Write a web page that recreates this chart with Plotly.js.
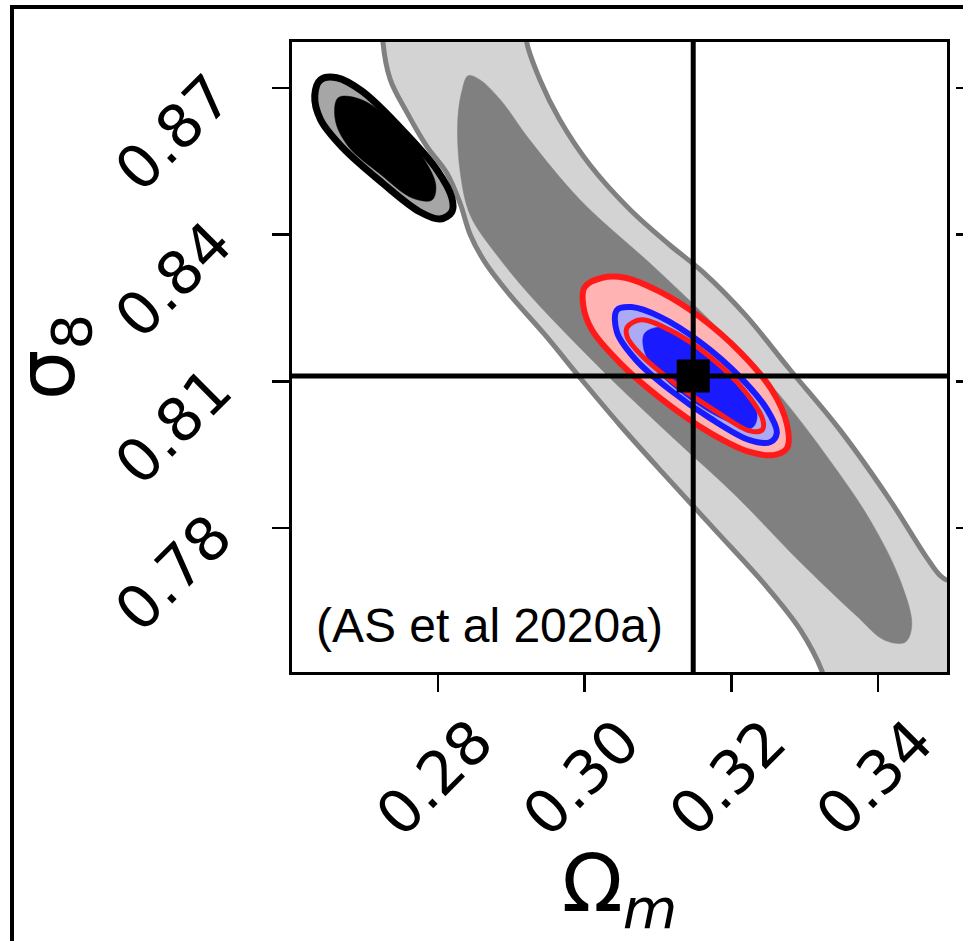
<!DOCTYPE html>
<html><head><meta charset="utf-8">
<script src="https://cdn.plot.ly/plotly-3.0.1.min.js"></script>
<style>
html,body{margin:0;padding:0;overflow:hidden;background:#fff}
#chart{position:absolute;left:0;top:0;width:963px;height:941px}
#frame{position:absolute;left:10px;top:5px;width:960px;height:940px;border-left:4px solid #000;border-top:4px solid #000;pointer-events:none}
</style></head>
<body><div id="chart"></div><div id="frame"></div>
<script>
// ---- tick values ----
const omegaTicks = [0.28, 0.30, 0.32, 0.34];
const sigmaTicks = [0.78, 0.81, 0.84, 0.87];
// ---- fiducial point ----
const omegaFid = 0.3148;
const sigmaFid = 0.8111;

// ---- grey constraint (outer 2-sigma band) ----
const greyOuterOm = [0.2725,0.2725,0.2735,0.2758,0.2785,0.2812,0.2830,0.2844,0.2864,0.2898,0.2946,0.2994,0.3048,0.3109,0.3178,0.3246,0.3294,0.3324,0.3334,0.3532,0.3532,0.3494,0.3484,0.3464,0.3416,0.3348,0.3280,0.3219,0.3161,0.3116,0.3062,0.3007,0.2966,0.2939,0.2921,0.2921,0.2725];
const greyOuterS8 = [0.8829,0.8794,0.8717,0.8649,0.8580,0.8526,0.8465,0.8400,0.8344,0.8277,0.8195,0.8107,0.8011,0.7909,0.7796,0.7684,0.7592,0.7506,0.7449,0.7449,0.7698,0.7694,0.7704,0.7745,0.7858,0.8001,0.8124,0.8236,0.8324,0.8379,0.8451,0.8543,0.8635,0.8717,0.8794,0.8829,0.8829];
// ---- grey constraint (inner 1-sigma) ----
const greyInnerOm = [0.2841,0.2857,0.2885,0.2925,0.2994,0.3099,0.3184,0.3266,0.3334,0.3389,0.3430,0.3446,0.3437,0.3409,0.3369,0.3291,0.3205,0.3124,0.3051,0.2983,0.2925,0.2880,0.2844,0.2830,0.2827,0.2833,0.2841];
const greyInnerS8 = [0.8725,0.8717,0.8676,0.8594,0.8471,0.8328,0.8205,0.8072,0.7939,0.7817,0.7694,0.7602,0.7567,0.7571,0.7623,0.7735,0.7868,0.7980,0.8083,0.8185,0.8277,0.8359,0.8440,0.8532,0.8635,0.8696,0.8725];
// ---- black constraint (AS et al 2020a) ----
const blackOuterOm = [0.2640,0.2662,0.2696,0.2748,0.2799,0.2819,0.2819,0.2803,0.2775,0.2724,0.2670,0.2640,0.2632,0.2640];
const blackOuterS8 = [0.8717,0.8721,0.8694,0.8620,0.8532,0.8475,0.8447,0.8432,0.8447,0.8506,0.8578,0.8635,0.8684,0.8717];
const blackInnerOm = [0.2664,0.2696,0.2739,0.2780,0.2797,0.2792,0.2765,0.2721,0.2677,0.2660,0.2664];
const blackInnerS8 = [0.8680,0.8676,0.8629,0.8557,0.8502,0.8471,0.8475,0.8524,0.8582,0.8635,0.8680];
// ---- red constraint ----
const redOuterOm = [0.3000,0.3024,0.3055,0.3103,0.3157,0.3212,0.3255,0.3276,0.3276,0.3259,0.3225,0.3171,0.3103,0.3048,0.3010,0.2998,0.3000];
const redOuterS8 = [0.8293,0.8312,0.8312,0.8283,0.8232,0.8160,0.8083,0.8011,0.7964,0.7950,0.7956,0.7995,0.8066,0.8138,0.8205,0.8256,0.8293];
const redInnerOm = [0.3058,0.3077,0.3116,0.3171,0.3219,0.3243,0.3242,0.3225,0.3178,0.3124,0.3077,0.3058,0.3058];
const redInnerS8 = [0.8211,0.8226,0.8205,0.8150,0.8079,0.8021,0.8001,0.7999,0.8040,0.8095,0.8154,0.8191,0.8211];
// ---- blue constraint ----
const blueOuterOm = [0.3044,0.3064,0.3103,0.3157,0.3212,0.3249,0.3262,0.3253,0.3225,0.3171,0.3116,0.3070,0.3044,0.3044];
const blueOuterS8 = [0.8246,0.8252,0.8232,0.8181,0.8109,0.8042,0.7995,0.7976,0.7980,0.8025,0.8083,0.8144,0.8201,0.8246];
const blueInnerOm = [0.3082,0.3109,0.3157,0.3208,0.3235,0.3228,0.3191,0.3141,0.3097,0.3081,0.3082];
const blueInnerS8 = [0.8199,0.8211,0.8171,0.8097,0.8034,0.8005,0.8021,0.8066,0.8124,0.8164,0.8199];

function region(x, y, fillcolor, linecolor, linewidth) {
  return {
    type: 'scatter', mode: 'lines', x: x, y: y,
    fill: fillcolor ? 'toself' : 'none',
    fillcolor: fillcolor || 'rgba(0,0,0,0)',
    line: {color: linecolor || fillcolor, width: linewidth, shape: 'spline', smoothing: 1},
    hoverinfo: 'skip', showlegend: false
  };
}

const traces = [
  region(greyOuterOm, greyOuterS8, '#d3d3d3', '#808080', 5),
  region(greyInnerOm, greyInnerS8, '#808080', '#808080', 0.5),
  region(blackOuterOm, blackOuterS8, '#a6a6a6', '#000000', 7),
  region(blackInnerOm, blackInnerS8, '#000000', '#000000', 0.5),
  region(redOuterOm, redOuterS8, '#ffb3b3', '#ff1a1a', 6),
  region(blueOuterOm, blueOuterS8, '#aaaaf5', '#1a1aff', 6),
  region(blueInnerOm, blueInnerS8, '#1a1aff', '#1a1aff', 0.5),
  region(redInnerOm, redInnerS8, null, '#ff1a1a', 5),
  {type:'scatter', mode:'markers', x:[omegaFid], y:[sigmaFid],
   marker:{symbol:'square', size:33, color:'#000'}, hoverinfo:'skip', showlegend:false},
  {type:'scatter', mode:'markers', x:[omegaFid], y:[sigmaFid], yaxis:'y2',
   marker:{size:1, opacity:0}, hoverinfo:'skip', showlegend:false}
];

const tickFont = {family:'DejaVu Sans', size:60, color:'#000'};
const titleFont = {family:'DejaVu Sans', size:80, color:'#000'};
const layout = {
  width: 963, height: 941,
  margin: {l:292, r:0, t:42, b:269},
  paper_bgcolor:'#fff', plot_bgcolor:'#fff',
  showlegend:false,
  xaxis: {
    domain:[0, 0.97616], range:[0.2601, 0.3494],
    tickvals: omegaTicks, ticktext: omegaTicks.map(v => v.toFixed(2)),
    ticks:'outside', ticklen:17, tickwidth:2.5, tickcolor:'#000',
    showline:true, linewidth:3, linecolor:'#000', mirror:true,
    showgrid:false, zeroline:false, tickangle:-45, tickfont:tickFont,
    ticklabelshift:37, ticklabelstandoff:-10, ticklabeloverflow:'allow',
    title:{text:'Ω<sub><i>m</i></sub>', font:titleFont, standoff:50}
  },
  yaxis: {
    range:[0.7506, 0.8794],
    tickvals: sigmaTicks, ticktext: sigmaTicks.map(v => v.toFixed(2)),
    ticks:'outside', ticklen:17, tickwidth:2.5, tickcolor:'#000',
    showline:true, linewidth:3, linecolor:'#000', mirror:true,
    showgrid:false, zeroline:false, tickangle:-45, tickfont:tickFont,
    ticklabelstandoff:46, ticklabeloverflow:'allow',
    title:{text:'σ<sub>8</sub>', font:titleFont, standoff:0}
  },
  yaxis2: {
    overlaying:'y', matches:'y', anchor:'free', position:1, side:'right',
    tickvals: sigmaTicks, showticklabels:false,
    ticks:'inside', ticklen:7, tickwidth:2.5, tickcolor:'#000',
    showline:false, showgrid:false, zeroline:false
  },
  shapes: [
    {type:'line', xref:'x', yref:'y domain', x0:omegaFid, x1:omegaFid, y0:0, y1:1, line:{color:'#000', width:5}},
    {type:'line', xref:'x domain', yref:'y', x0:0, x1:1, y0:sigmaFid, y1:sigmaFid, line:{color:'#000', width:5}}
  ],
  annotations: [
    {text:'(AS et al 2020a)', xref:'x domain', yref:'y domain', x:0.033, y:0.028,
     xanchor:'left', yanchor:'bottom', showarrow:false,
     font:{family:'Liberation Sans', size:48, color:'#000'}}
  ]
};

Plotly.newPlot('chart', traces, layout, {staticPlot:true, displayModeBar:false});
</script>
</body></html>
